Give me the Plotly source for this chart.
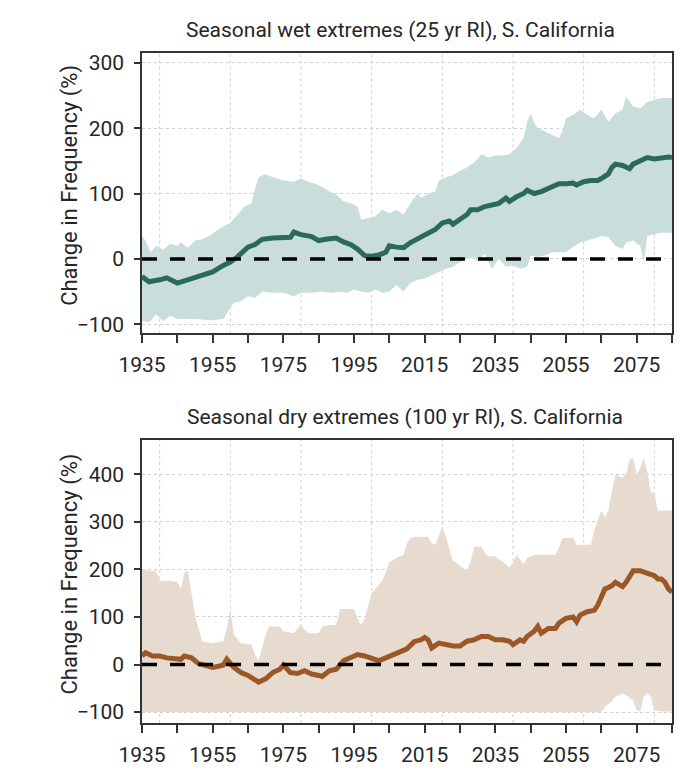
import plotly.graph_objects as go

# ---------------- data ----------------
x_tick_vals = [1935, 1945, 1955, 1965, 1975, 1985, 1995, 2005, 2015, 2025, 2035, 2045, 2055, 2065, 2075, 2085]
x_tick_text = ["1935", "", "1955", "", "1975", "", "1995", "", "2015", "", "2035", "", "2055", "", "2075", ""]
x_grid_vals = [1940, 1960, 1980, 2000, 2020, 2040, 2060, 2080]

wet_y_ticks = [-100, 0, 100, 200, 300]
dry_y_ticks = [-100, 0, 100, 200, 300, 400]

# Wet extremes (top panel)
wet_mean_years = [1935, 1937, 1940, 1942, 1945, 1948, 1950, 1953, 1955, 1958, 1960, 1962, 1965, 1967, 1969,
                  1972, 1975, 1977, 1978, 1980, 1983, 1985, 1987, 1990, 1992, 1994, 1996, 1998, 2000, 2002,
                  2004, 2005, 2007, 2009, 2011, 2013, 2014, 2016, 2018, 2020, 2022, 2023, 2025, 2027, 2028,
                  2030, 2032, 2034, 2036, 2038, 2039, 2041, 2043, 2044, 2046, 2048, 2050, 2052, 2053, 2055,
                  2057, 2058, 2060, 2062, 2064, 2065, 2067, 2068, 2069, 2071, 2073, 2074, 2076, 2078, 2080,
                  2082, 2084, 2085]
wet_mean = [-27, -35, -32, -29, -37, -32, -30, -24, -20, -10, -5, 3, 18, 22, 30,
            32, 33, 33, 41, 37, 34, 28, 30, 32, 26, 22, 15, 5, 4, 6,
            10, 20, 18, 17, 25, 31, 35, 40, 45, 55, 58, 53, 60, 68, 75,
            75, 80, 83, 85, 93, 88, 95, 100, 105, 100, 103, 108, 113, 115, 115,
            116, 113, 118, 120, 120, 123, 130, 140, 145, 143, 138, 145, 151, 155, 153,
            155, 156, 155]

wet_upper_years = [1935, 1936, 1937.5, 1939, 1941, 1943, 1945, 1946, 1948, 1950, 1952, 1954, 1956, 1958, 1960,
                   1962, 1964, 1966, 1967, 1968, 1970, 1972, 1975, 1978, 1980, 1982, 1984, 1986, 1988, 1990,
                   1992, 1994, 1996, 1997, 1999, 2001, 2003, 2005, 2007, 2009, 2011, 2013, 2014, 2016, 2018,
                   2019, 2021, 2023, 2025, 2027, 2029, 2030, 2031, 2033, 2035, 2037, 2039, 2041, 2043, 2044,
                   2045, 2046, 2047, 2049, 2051, 2053, 2054, 2055, 2057, 2059, 2061, 2063, 2065, 2067, 2069,
                   2071, 2072, 2074, 2076, 2078, 2080, 2082, 2085]
wet_upper = [35, 28, 10, 20, 14, 23, 20, 25, 17, 28, 30, 35, 43, 50, 55,
             68, 80, 85, 108, 125, 130, 125, 120, 118, 123, 118, 115, 110, 103, 98,
             88, 85, 80, 60, 63, 65, 75, 70, 75, 68, 85, 100, 93, 100, 103,
             120, 125, 128, 135, 140, 148, 153, 160, 155, 158, 158, 160, 170, 185, 210,
             223, 208, 200, 195, 190, 185, 195, 215, 220, 228, 220, 215, 228, 210, 223,
             228, 248, 233, 230, 240, 243, 246, 246]

wet_lower_years = [1935, 1937, 1939, 1941, 1943, 1945, 1950, 1955, 1958, 1960, 1961, 1963, 1965, 1967, 1969,
                   1972, 1975, 1978, 1980, 1983, 1986, 1989, 1991, 1993, 1995, 1997, 1999, 2001, 2003, 2005,
                   2007, 2009, 2011, 2013, 2015, 2017, 2019, 2021, 2023, 2025, 2027, 2029, 2030, 2032, 2034,
                   2036, 2038, 2040, 2042, 2044, 2045, 2047, 2049, 2051, 2053, 2055, 2057, 2059, 2061, 2063,
                   2065, 2067, 2069, 2071, 2072, 2074, 2076, 2077, 2078, 2080, 2082, 2085]
wet_lower = [-95, -97, -85, -95, -87, -92, -92, -94, -92, -75, -67, -65, -57, -60, -50,
             -52, -52, -57, -52, -52, -50, -52, -50, -52, -47, -50, -52, -47, -52, -50,
             -40, -50, -37, -32, -30, -25, -20, -15, -12, -5, 0, 3, -5, 8, -15,
             0, -12, -10, -15, -12, 5, 3, 5, 10, 10, 10, 18, 25, 28, 31,
             35, 33, 20, 15, 25, 28, 20, -5, 35, 38, 40, 40]

# Dry extremes (bottom panel)
dry_mean_years = [1935, 1936, 1938, 1940, 1942, 1944, 1946, 1947, 1949, 1951, 1953, 1955, 1957, 1958, 1959,
                  1961, 1963, 1965, 1967, 1968, 1970, 1972, 1974, 1975, 1977, 1979, 1981, 1983, 1985, 1986,
                  1988, 1990, 1992, 1994, 1996, 1998, 2000, 2002, 2004, 2006, 2008, 2010, 2012, 2014, 2015,
                  2016, 2017, 2018, 2019, 2021, 2023, 2025, 2027, 2029, 2031, 2033, 2035, 2037, 2039, 2040,
                  2042, 2043, 2044, 2046, 2047, 2048, 2050, 2052, 2053, 2055, 2057, 2058, 2059, 2061, 2063,
                  2064, 2065, 2066, 2067, 2068, 2069, 2071, 2072, 2073, 2074, 2076, 2078, 2080, 2081, 2082,
                  2083, 2084, 2085]
dry_mean = [18, 25, 18, 18, 14, 13, 11, 18, 14, 2, -1, -6, -3, -1, 11,
            -6, -17, -23, -32, -37, -30, -17, -10, -1, -17, -19, -13, -20, -23, -25,
            -13, -10, 8, 14, 21, 18, 14, 8, 14, 20, 25, 33, 48, 52, 57,
            52, 35, 39, 45, 42, 39, 39, 49, 52, 59, 59, 52, 52, 49, 42,
            52, 49, 59, 70, 80, 66, 76, 76, 87, 97, 100, 90, 104, 111, 114,
            125, 145, 159, 162, 166, 173, 164, 173, 187, 197, 197, 193, 187, 180, 180,
            173, 159, 152]

dry_upper_years = [1935, 1937, 1939, 1940, 1943, 1945, 1946, 1947, 1948, 1949, 1950, 1951, 1952, 1955, 1958,
                   1959, 1960, 1961, 1963, 1966, 1967, 1968, 1969, 1970, 1971, 1974, 1975, 1978, 1979, 1980,
                   1981, 1982, 1985, 1986, 1988, 1990, 1991, 1995, 1996, 1997, 1998, 1999, 2000, 2001, 2003,
                   2005, 2007, 2009, 2010, 2011, 2013, 2016, 2017, 2018, 2019, 2020, 2021, 2022, 2023, 2024,
                   2025, 2027, 2028, 2029, 2031, 2032, 2033, 2035, 2036, 2037, 2038, 2039, 2040, 2041, 2042,
                   2043, 2044, 2046, 2050, 2052, 2053, 2054, 2057, 2058, 2060, 2062, 2063, 2064, 2065, 2066,
                   2067, 2068, 2069, 2070, 2071, 2072, 2073, 2074, 2075, 2076, 2077, 2078, 2079, 2080, 2081,
                   2085]
dry_upper = [200, 197, 197, 176, 176, 173, 159, 193, 197, 152, 104, 76, 49, 45, 49,
             76, 114, 63, 45, 42, 21, 8, 35, 63, 80, 80, 70, 66, 76, 83,
             73, 66, 66, 80, 83, 83, 117, 117, 97, 83, 97, 121, 149, 159, 176,
             214, 224, 231, 255, 266, 269, 269, 255, 252, 273, 290, 269, 242, 217, 214,
             207, 197, 217, 248, 248, 235, 228, 228, 221, 217, 211, 204, 214, 231, 221,
             211, 224, 231, 231, 231, 245, 266, 266, 252, 252, 252, 283, 304, 324, 310,
             324, 365, 400, 396, 393, 400, 431, 434, 400, 413, 434, 406, 362, 362, 324,
             324]

dry_lower_years = [1935, 2065, 2066, 2068, 2069, 2071, 2072, 2074, 2075, 2076, 2077, 2078, 2079, 2080, 2082, 2085]
dry_lower = [-100, -100, -89, -78, -68, -61, -65, -75, -96, -99, -68, -61, -68, -96, -99, -99]

zero_x = [1935, 2085]
zero_y = [0, 0]

# ---------------- styling ----------------
FONT = "Roboto"
TXT = "#262626"
AXC = "#333333"
WET_LINE = "#2b6a59"
WET_BAND = "#c9dedb"
DRY_LINE = "#9b5826"
DRY_BAND = "#e7dacf"

fig = go.Figure()

def add_panel(xa, ya, uy, u, ly, l, my, m, band, line):
    # band polygon: upper edge forward, lower edge backward
    fig.add_trace(go.Scatter(x=list(uy) + list(ly)[::-1], y=list(u) + list(l)[::-1],
                             mode="lines", line=dict(width=0, color=band),
                             fill="toself", fillcolor=band, hoverinfo="skip",
                             showlegend=False, xaxis=xa, yaxis=ya))
    fig.add_trace(go.Scatter(x=my, y=m, mode="lines", line=dict(width=5, color=line),
                             showlegend=False, xaxis=xa, yaxis=ya))
    fig.add_trace(go.Scatter(x=zero_x, y=zero_y, mode="lines",
                             line=dict(width=3.5, color="black", dash="15px,13px"),
                             showlegend=False, xaxis=xa, yaxis=ya))

add_panel("x", "y", wet_upper_years, wet_upper, wet_lower_years, wet_lower,
          wet_mean_years, wet_mean, WET_BAND, WET_LINE)
add_panel("x2", "y2", dry_upper_years, dry_upper, dry_lower_years, dry_lower,
          dry_mean_years, dry_mean, DRY_BAND, DRY_LINE)

# vertical dotted grid lines
shapes = []
for xr, yr in (("x", "y domain"), ("x2", "y2 domain")):
    for g in x_grid_vals:
        shapes.append(dict(type="line", xref=xr, yref=yr, x0=g, x1=g, y0=0, y1=1,
                           line=dict(color="#cfcfcf", width=1, dash="dot"), layer="below"))

xcommon = dict(range=[1935, 2085], tickmode="array", tickvals=x_tick_vals, ticktext=x_tick_text,
               ticks="outside", ticklen=8, tickwidth=1.5, tickcolor=AXC, showgrid=False,
               showline=True, linecolor=AXC, linewidth=1.5, mirror=True, zeroline=False,
               tickfont=dict(family=FONT, size=21, color=TXT), ticklabelstandoff=4)
ycommon = dict(tickmode="array", ticks="outside", ticklen=6, tickwidth=1.5, tickcolor=AXC,
               showgrid=True, gridcolor="#cfcfcf", gridwidth=1, griddash="dot",
               showline=True, linecolor=AXC, linewidth=1.5, mirror=True, zeroline=False,
               tickfont=dict(family=FONT, size=21, color=TXT), ticklabelstandoff=6)

fig.update_layout(
    width=683, height=771,
    margin=dict(l=134, r=19, t=45, b=45),
    paper_bgcolor="white", plot_bgcolor="white",
    xaxis=dict(domain=[0, 1], anchor="y", **xcommon),
    yaxis=dict(domain=[0.5815, 1], anchor="x", range=[-114, 315], tickvals=wet_y_ticks, **ycommon),
    xaxis2=dict(domain=[0, 1], anchor="y2", **xcommon),
    yaxis2=dict(domain=[0, 0.4229], anchor="x2", range=[-123, 473], tickvals=dry_y_ticks, **ycommon),
    shapes=shapes,
    annotations=[
        dict(text="Seasonal wet extremes (25 yr RI), S. California", xref="paper", yref="paper",
             x=0.487, y=1.034, xanchor="center", yanchor="middle", showarrow=False,
             font=dict(family=FONT, size=21, color=TXT)),
        dict(text="Seasonal dry extremes (100 yr RI), S. California", xref="paper", yref="paper",
             x=0.497, y=0.4567, xanchor="center", yanchor="middle", showarrow=False,
             font=dict(family=FONT, size=21, color=TXT)),
        dict(text="Change in Frequency (%)", xref="paper", yref="paper", textangle=-90,
             x=-0.1358, y=0.8018, xanchor="center", yanchor="middle", showarrow=False,
             font=dict(family=FONT, size=22, color=TXT)),
        dict(text="Change in Frequency (%)", xref="paper", yref="paper", textangle=-90,
             x=-0.1358, y=0.2217, xanchor="center", yanchor="middle", showarrow=False,
             font=dict(family=FONT, size=22, color=TXT)),
    ],
)

fig.write_html("out.html")
